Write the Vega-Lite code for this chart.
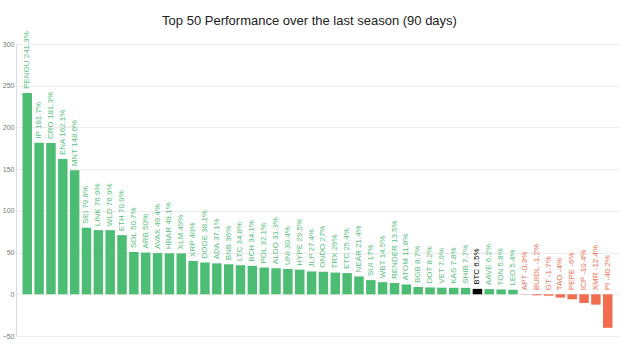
{
  "$schema": "https://vega.github.io/schema/vega-lite/v6.json",
  "width": 603,
  "height": 292,
  "autosize": "none",
  "padding": {"left": 16, "top": 44, "right": 8, "bottom": 19},
  "background": "white",
  "config": {"view": {"stroke": null}, "font": "Liberation Sans"},
  "title": {"text": "Top 50 Performance over the last season (90 days)", "fontSize": 13, "fontWeight": "normal", "color": "#222", "offset": 3, "font": "Liberation Sans", "dx": -8},
  "data": {"values": [
    {"name": "PENGU", "pct": 241.3}, {"name": "IP", "pct": 181.7}, {"name": "CRO", "pct": 181.3}, {"name": "ENA", "pct": 162.1}, {"name": "MNT", "pct": 148.6},
    {"name": "SEI", "pct": 79.8}, {"name": "LINK", "pct": 76.9}, {"name": "WLD", "pct": 76.9}, {"name": "ETH", "pct": 70.9}, {"name": "SOL", "pct": 50.7},
    {"name": "ARB", "pct": 50}, {"name": "AVAX", "pct": 49.4}, {"name": "HBAR", "pct": 49.1}, {"name": "XLM", "pct": 49}, {"name": "XRP", "pct": 40},
    {"name": "DOGE", "pct": 38.1}, {"name": "ADA", "pct": 37.1}, {"name": "BNB", "pct": 36}, {"name": "LTC", "pct": 34.8}, {"name": "BCH", "pct": 34.1},
    {"name": "POL", "pct": 32.1}, {"name": "ALGO", "pct": 31.3}, {"name": "UNI", "pct": 30.4}, {"name": "HYPE", "pct": 29.5}, {"name": "JLP", "pct": 27.4},
    {"name": "ONDO", "pct": 27}, {"name": "TRX", "pct": 26}, {"name": "ETC", "pct": 25.4}, {"name": "NEAR", "pct": 21.4}, {"name": "SUI", "pct": 17},
    {"name": "WBT", "pct": 14.5}, {"name": "RENDER", "pct": 13.5}, {"name": "ATOM", "pct": 11.8}, {"name": "BGB", "pct": 8.7}, {"name": "DOT", "pct": 8.2},
    {"name": "VET", "pct": 7.9}, {"name": "KAS", "pct": 7.8}, {"name": "SHIB", "pct": 7.7}, {"name": "BTC", "pct": 6.5}, {"name": "AAVE", "pct": 6.2},
    {"name": "TON", "pct": 5.8}, {"name": "LEO", "pct": 5.4}, {"name": "APT", "pct": -0.3}, {"name": "BUIDL", "pct": -1.2}, {"name": "GT", "pct": -1.7},
    {"name": "TAO", "pct": -4}, {"name": "PEPE", "pct": -6}, {"name": "ICP", "pct": -10.4}, {"name": "XMR", "pct": -12.4}, {"name": "PI", "pct": -40.2}
  ]},
  "transform": [{"calculate": "datum.name + ' ' + datum.pct + '%'", "as": "label"}],
  "encoding": {
    "x": {"field": "name", "type": "nominal", "sort": null, "axis": null, "scale": {"paddingInner": 0.2, "paddingOuter": 0.55}}
  },
  "layer": [
    {
      "mark": {"type": "bar"},
      "encoding": {
        "y": {"field": "pct", "type": "quantitative", "scale": {"domain": [-50, 300], "nice": false},
          "axis": {"title": null, "values": [-50, 0, 50, 100, 150, 200, 250, 300], "ticks": false, "labelFontSize": 7, "labelColor": "#777", "labelPadding": 2, "gridColor": "#ececec", "domainColor": "#ddd", "labelFont": "Liberation Sans"}},
        "color": {"condition": [{"test": "datum.name === 'BTC'", "value": "#000000"}, {"test": "datum.pct < 0", "value": "#f26d50"}], "value": "#4dbd74"}
      }
    },
    {
      "transform": [{"filter": "datum.pct >= 0"}],
      "mark": {"type": "text", "angle": -90, "align": "left", "baseline": "middle", "dx": 4, "fontSize": 8},
      "encoding": {
        "y": {"field": "pct", "type": "quantitative"},
        "text": {"field": "label"},
        "color": {"condition": [{"test": "datum.name === 'BTC'", "value": "#000000"}], "value": "#55c07b"}
      }
    },
    {
      "transform": [{"filter": "datum.pct < 0"}],
      "mark": {"type": "text", "angle": -90, "align": "left", "baseline": "middle", "dx": 4, "fontSize": 8, "color": "#f26d50"},
      "encoding": {
        "y": {"datum": 0, "type": "quantitative"},
        "text": {"field": "label"}
      }
    }
  ]
}
